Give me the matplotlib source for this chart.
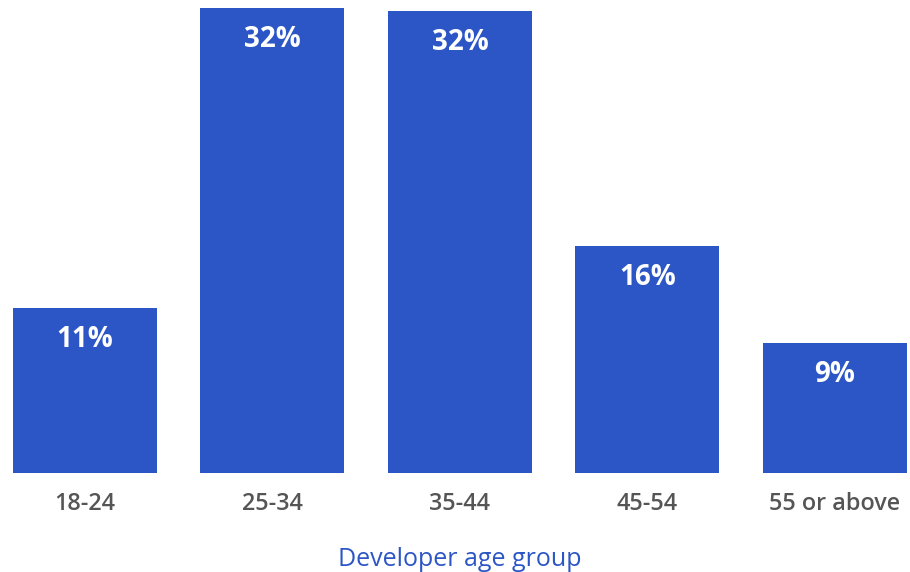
import matplotlib
matplotlib.use("Agg")
import matplotlib.pyplot as plt

# data
age_groups = ["18-24", "25-34", "35-44", "45-54", "55 or above"]
shares = [11.4, 32.07, 31.86, 15.66, 8.97]
share_labels = ["11%", "32%", "32%", "16%", "9%"]

blue = "#2C56C6"
grey = "#555555"

plt.rcParams["font.family"] = ["Open Sans", "DejaVu Sans"]

fig = plt.figure(figsize=(9.1, 5.72), dpi=100)
ax = fig.add_axes([13 / 910, 99 / 572, 894 / 910, 465 / 572])

x = range(len(age_groups))
bars = ax.bar(x, shares, width=0.768, color=blue)

# value labels inside the top of each bar
for b, lab in zip(bars, share_labels):
    ax.annotate(lab, (b.get_x() + b.get_width() / 2, b.get_height()),
                xytext=(0, -23), textcoords="offset points",
                ha="center", va="center", color="white",
                fontsize=20, fontweight="bold")

ax.set_xlim(-0.384, 4.384)
ax.set_ylim(0, 32.07)
ax.set_xticks(list(x))
ax.set_xticklabels(age_groups, fontsize=16.8, color=grey, fontweight="semibold")
ax.tick_params(axis="x", length=0, pad=14)
ax.set_yticks([])
for s in ax.spines.values():
    s.set_visible(False)

ax.set_xlabel("Developer age group", fontsize=18, color=blue, labelpad=22)

fig.savefig("out.png", dpi=100)
